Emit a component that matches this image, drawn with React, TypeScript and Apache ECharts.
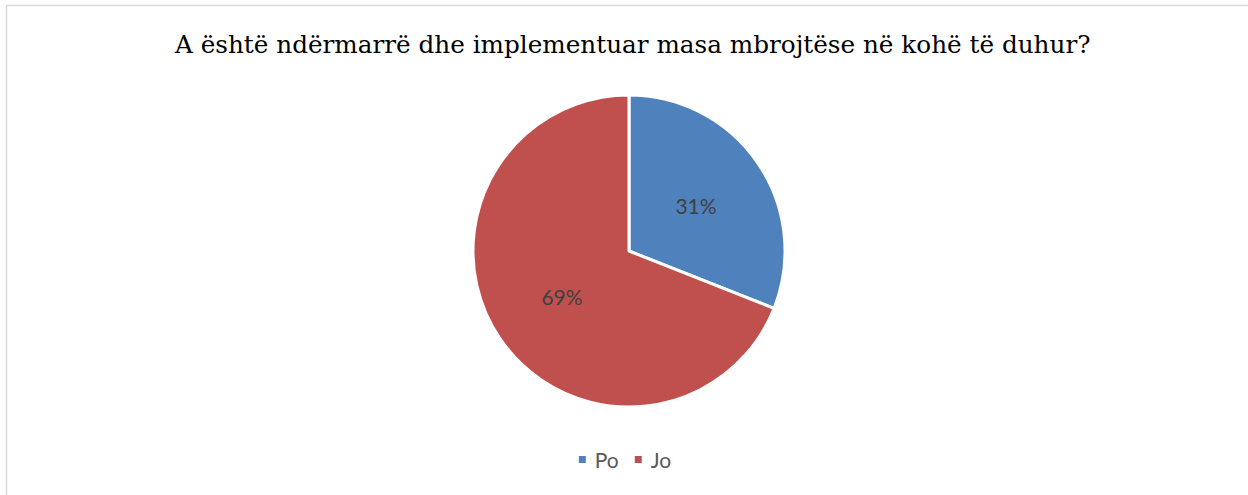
import React, { useEffect, useRef } from "react";
import * as echarts from "echarts";

const titleText = "A është ndërmarrë dhe implementuar masa mbrojtëse në kohë të duhur?";
const categories = ["Po", "Jo"];
const values = [31, 69];
const colors = ["#4F81BD", "#C0504D"];

export default function App() {
  const ref = useRef<HTMLDivElement>(null);
  useEffect(() => {
    if (!ref.current) return;
    const chart = echarts.init(ref.current, null, { renderer: "svg" });
    chart.setOption({
      animation: false,
      backgroundColor: "#ffffff",
      title: {
        text: titleText,
        left: 170,
        top: 27,
        textStyle: {
          fontFamily: "DejaVu Serif",
          fontWeight: "normal",
          fontSize: 24.7,
          color: "#000000",
        },
      },
      graphic: [
        {
          type: "rect",
          shape: { x: 6.5, y: 5.5, width: 1400, height: 700 },
          style: { fill: "none", stroke: "#d9d9d9", lineWidth: 1.5 },
          silent: true,
        },
      ],
      legend: {
        data: categories,
        bottom: 20,
        left: "center",
        icon: "rect",
        itemWidth: 9,
        itemHeight: 9,
        itemGap: 14,
        textStyle: {
          fontFamily: "Lato",
          fontSize: 21,
          color: "#595959",
          padding: [0, 0, 0, 3],
        },
      },
      series: [
        {
          type: "pie",
          center: [629, 251],
          radius: [0, 156],
          startAngle: 90,
          clockwise: true,
          data: categories.map((c, i) => ({
            name: c,
            value: values[i],
            itemStyle: { color: colors[i] },
          })),
          itemStyle: { borderColor: "#ffffff", borderWidth: 3 },
          label: {
            show: true,
            position: "inside",
            formatter: (p: any) => p.value + "%",
            fontFamily: "Lato",
            fontSize: 21,
            color: "#404040",
          },
          labelLine: { show: false },
          emphasis: { disabled: true },
        },
      ],
    });
    return () => chart.dispose();
  }, []);
  return (
    <div
      ref={ref}
      style={{ position: "absolute", left: 0, top: 0, width: 1248, height: 495 }}
    />
  );
}
